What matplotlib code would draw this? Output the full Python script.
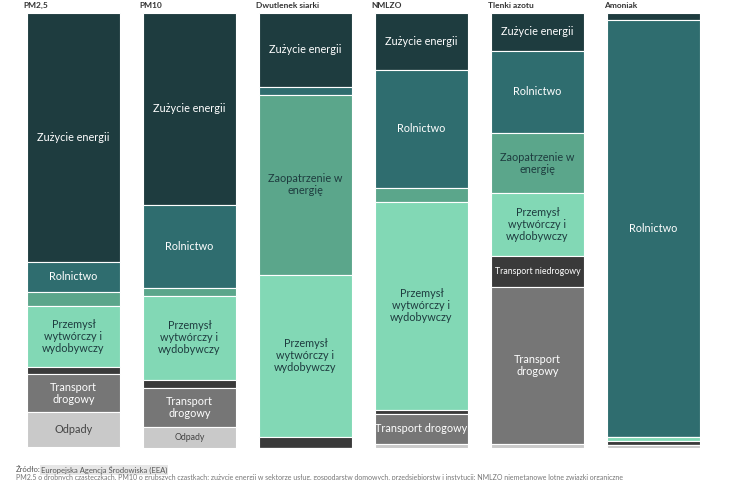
import matplotlib
matplotlib.use("Agg")
import matplotlib.pyplot as plt

plt.rcParams['font.family'] = ['Lato', 'DejaVu Sans']

# --- data (share of emissions, %), listed top to bottom ---
pollutants = ["PM2,5", "PM10", "Dwutlenek siarki", "NMLZO", "Tlenki azotu", "Amoniak"]
sectors = ["Zużycie energii", "Rolnictwo", "Zaopatrzenie w energię",
           "Przemysł wytwórczy i wydobywczy", "Transport niedrogowy",
           "Transport drogowy", "Odpady"]
sector_labels = ["Zużycie energii", "Rolnictwo", "Zaopatrzenie w\nenergię",
                 "Przemysł\nwytwórczy i\nwydobywczy", "Transport niedrogowy",
                 "Transport\ndrogowy", "Odpady"]
zuzycie      = [57.2, 44.1, 17.0, 13.1, 8.7, 1.6]
rolnictwo    = [6.9, 19.1, 1.8, 27.1, 18.9, 95.8]
zaopatrzenie = [3.2, 1.8, 41.4, 3.2, 13.8, 0.0]
przemysl     = [14.0, 19.3, 37.2, 47.8, 14.5, 0.9]
niedrogowy   = [1.8, 1.8, 2.5, 0.9, 7.1, 0.9]
drogowy      = [8.7, 9.0, 0.0, 6.9, 36.1, 0.0]
odpady       = [8.0, 4.8, 0.0, 0.9, 0.9, 0.9]
series = [zuzycie, rolnictwo, zaopatrzenie, przemysl, niedrogowy, drogowy, odpady]

colors = ["#1e3c3f", "#2f6d6f", "#5ba68b", "#82d8b5", "#3a3a3a", "#767676", "#c9c9c9"]
text_colors = ["white", "white", "#1e3c3f", "#1e3c3f", "white", "white", "#444444"]

fig = plt.figure(figsize=(7.3, 4.8), dpi=100)
ax = fig.add_axes([27 / 730, 1 - 448 / 480, 673 / 730, 435 / 480])
ax.set_xlim(-0.4, 5.4)
ax.set_ylim(100, 0)
ax.axis("off")

x = list(range(len(pollutants)))
bottom = [0.0] * len(pollutants)
for si, vals in enumerate(series):
    ax.bar(x, vals, bottom=bottom, width=0.8, align="center",
           color=colors[si], edgecolor="white", linewidth=0.8)
    for i, v in enumerate(vals):
        if v >= 4.5:
            lab = sector_labels[si]
            fs = 7.8
            if v < 8:
                lab = lab.replace("\n", " ")
            if v < 6 or si == 4:
                fs = 6.3
            ax.text(i, bottom[i] + v / 2, lab, ha="center", va="center",
                    fontsize=fs, color=text_colors[si], linespacing=1.1)
    bottom = [b + v for b, v in zip(bottom, vals)]

for i, name in enumerate(pollutants):
    ax.text(i - 0.43, -0.9, name, ha="left", va="bottom", fontsize=6,
            fontweight="bold", color="#333333")

fig.text(16 / 730, 1 - 470 / 480, "Źródło:", fontsize=5.5, color="#555555", va="center")
fig.text(41 / 730, 1 - 470 / 480, "Europejska Agencja Środowiska (EEA)", fontsize=5.5,
         color="#555555", va="center",
         bbox=dict(facecolor="#e6e6e6", edgecolor="none", pad=0.5))
fig.text(16 / 730, 1 - 477 / 480,
         "PM2,5 o drobnych cząsteczkach, PM10 o grubszych cząstkach; zużycie energii w sektorze "
         "usług, gospodarstw domowych, przedsiębiorstw i instytucji; NMLZO niemetanowe lotne związki organiczne",
         fontsize=5, color="#777777", va="center")

fig.savefig("out.png", dpi=100, facecolor="white")
